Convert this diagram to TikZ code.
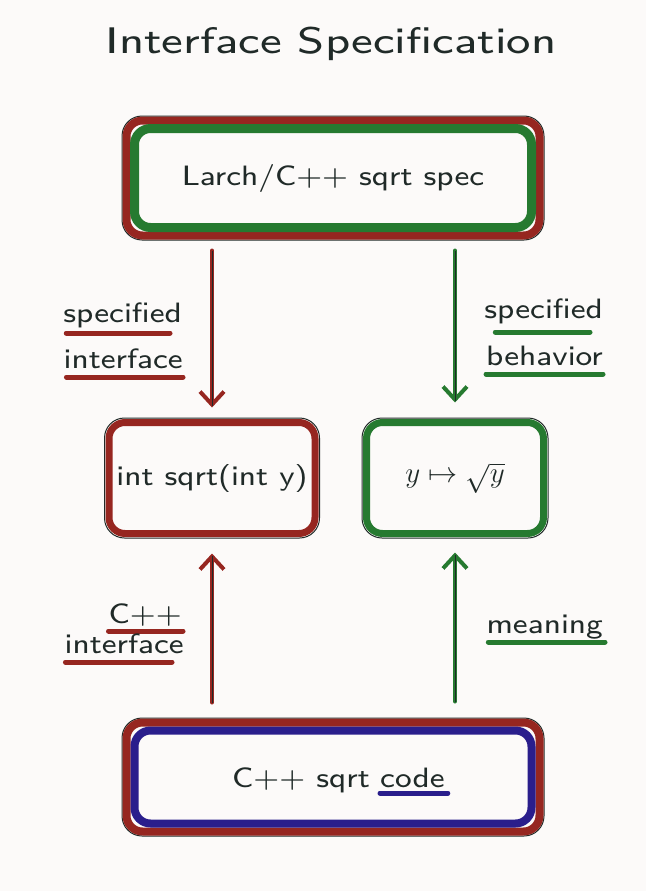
\documentclass[tikz,border=0pt]{standalone}
\usepackage{fontspec}
\usepackage{graphicx}
\usepackage{tikz}
\usetikzlibrary{arrows.meta}
\newfontfamily\handsans[FakeStretch=1.12]{lmsans8-regular.otf}
\newfontfamily\titlesans[FakeStretch=1.24]{lmsans8-regular.otf}
\definecolor{paper}{RGB}{252,250,249}
\definecolor{ink}{RGB}{32,42,40}
\definecolor{mred}{RGB}{150,38,32}
\definecolor{mgreen}{RGB}{38,122,48}
\definecolor{mblue}{RGB}{42,30,140}
\tikzset{
  box/.style={draw=ink, line width=1pt, rounded corners=20pt, inner sep=0pt,
    text=ink, font=\fontsize{28}{30}\selectfont\handsans},
  txt/.style={inner sep=0pt, text=ink, font=\fontsize{28}{30}\selectfont\handsans},
  band/.style={line width=#1, rounded corners=16pt, line join=round},
  under/.style={line width=5pt, line cap=round},
  penarrow/.style={line width=4pt, line cap=round, -{Straight Barb[length=13pt,width=24pt,line width=4pt]}},
  core/.style={draw=ink, line width=0.7pt}
}
\begin{document}
\begin{tikzpicture}[x=1pt,y=-1pt]
\useasboundingbox (0,0) rectangle (646,891);
\fill [paper] (0,0) rectangle (646,891);
\node [txt, anchor=base, font=\fontsize{37}{40}\selectfont\titlesans] (title) at (331,54) {Interface Specification};
% boxes
\node [box, minimum width=422pt, minimum height=124pt] (spec) at (333,178) {Larch/C++ sqrt spec};
\draw [band=8pt, mred] ([shift={(5,5)}]spec.north west) rectangle ([shift={(-5,-5)}]spec.south east);
\draw [band=9pt, mgreen] ([shift={(13,13)}]spec.north west) rectangle ([shift={(-13,-13)}]spec.south east);
\node [box, minimum width=215pt, minimum height=120pt] (iface) at (212,478) {int sqrt(int y)};
\draw [band=7pt, mred] ([shift={(5,5)}]iface.north west) rectangle ([shift={(-5,-5)}]iface.south east);
\node [box, minimum width=186pt, minimum height=120pt] (behav) at (455,478) {\scalebox{1.17}{$y\mapsto\sqrt{y}$}};
\draw [band=7pt, mgreen] ([shift={(5,5)}]behav.north west) rectangle ([shift={(-5,-5)}]behav.south east);
\node [box, minimum width=422pt, minimum height=118pt] (code) at (333,777) {};
\draw [band=8pt, mred] ([shift={(5,5)}]code.north west) rectangle ([shift={(-5,-5)}]code.south east);
\draw [band=8pt, mblue] ([shift={(13,13)}]code.north west) rectangle ([shift={(-13,-13)}]code.south east);
\node [txt, anchor=base west] (cpp) at (232,787) {C++ sqrt};
\node [txt, anchor=base west] (cword) at ([xshift=10pt]cpp.base east) {code};
\draw [under, mblue] ([yshift=-6pt]cword.base west) -- ([shift={(3pt,-6pt)}]cword.base east);
% arrows
\draw [penarrow, mred] ([yshift=-10pt]iface.north |- spec.south) -- ([yshift=10pt]iface.north);
\draw [core] ([yshift=-10pt]iface.north |- spec.south) -- ([yshift=12pt]iface.north);
\draw [penarrow, mgreen] ([yshift=-10pt]behav.north |- spec.south) -- ([yshift=15pt]behav.north);
\draw [core] ([yshift=-10pt]behav.north |- spec.south) -- ([yshift=17pt]behav.north);
\draw [penarrow, mred] ([yshift=15pt]iface.south |- code.north) -- ([yshift=-15pt]iface.south);
\draw [core] ([yshift=15pt]iface.south |- code.north) -- ([yshift=-17pt]iface.south);
\draw [penarrow, mgreen] ([yshift=16pt]behav.south |- code.north) -- ([yshift=-14pt]behav.south);
\draw [core] ([yshift=16pt]behav.south |- code.north) -- ([yshift=-16pt]behav.south);
% labels
\node [txt, anchor=base east] (spec1) at (182,322) {specified};
\draw [under, mred] ([shift={(3pt,-11pt)}]spec1.base west) -- ([shift={(-12pt,-11pt)}]spec1.base east);
\node [txt, anchor=base east] (intf1) at (183,368) {interface};
\draw [under, mred] ([shift={(3pt,-9pt)}]intf1.base west) -- ([shift={(0pt,-9pt)}]intf1.base east);
\node [txt, anchor=base east] (spec2) at (603,318) {specified};
\draw [under, mgreen] ([shift={(11pt,-14pt)}]spec2.base west) -- ([shift={(-13pt,-14pt)}]spec2.base east);
\node [txt, anchor=base east] (behv) at (603,365) {behavior};
\draw [under, mgreen] ([shift={(0pt,-9pt)}]behv.base west) -- ([shift={(0pt,-9pt)}]behv.base east);
\node [txt, anchor=base east] (cplus) at (182,623) {C++};
\draw [under, mred] ([shift={(0pt,-8pt)}]cplus.base west) -- ([shift={(1pt,-8pt)}]cplus.base east);
\node [txt, anchor=base east] (intf2) at (184,653) {interface};
\draw [under, mred] ([shift={(1pt,-9pt)}]intf2.base west) -- ([shift={(-12pt,-9pt)}]intf2.base east);
\node [txt, anchor=base east] (mean) at (603,633) {meaning};
\draw [under, mgreen] ([shift={(2pt,-9pt)}]mean.base west) -- ([shift={(2pt,-9pt)}]mean.base east);
\end{tikzpicture}
\end{document}
